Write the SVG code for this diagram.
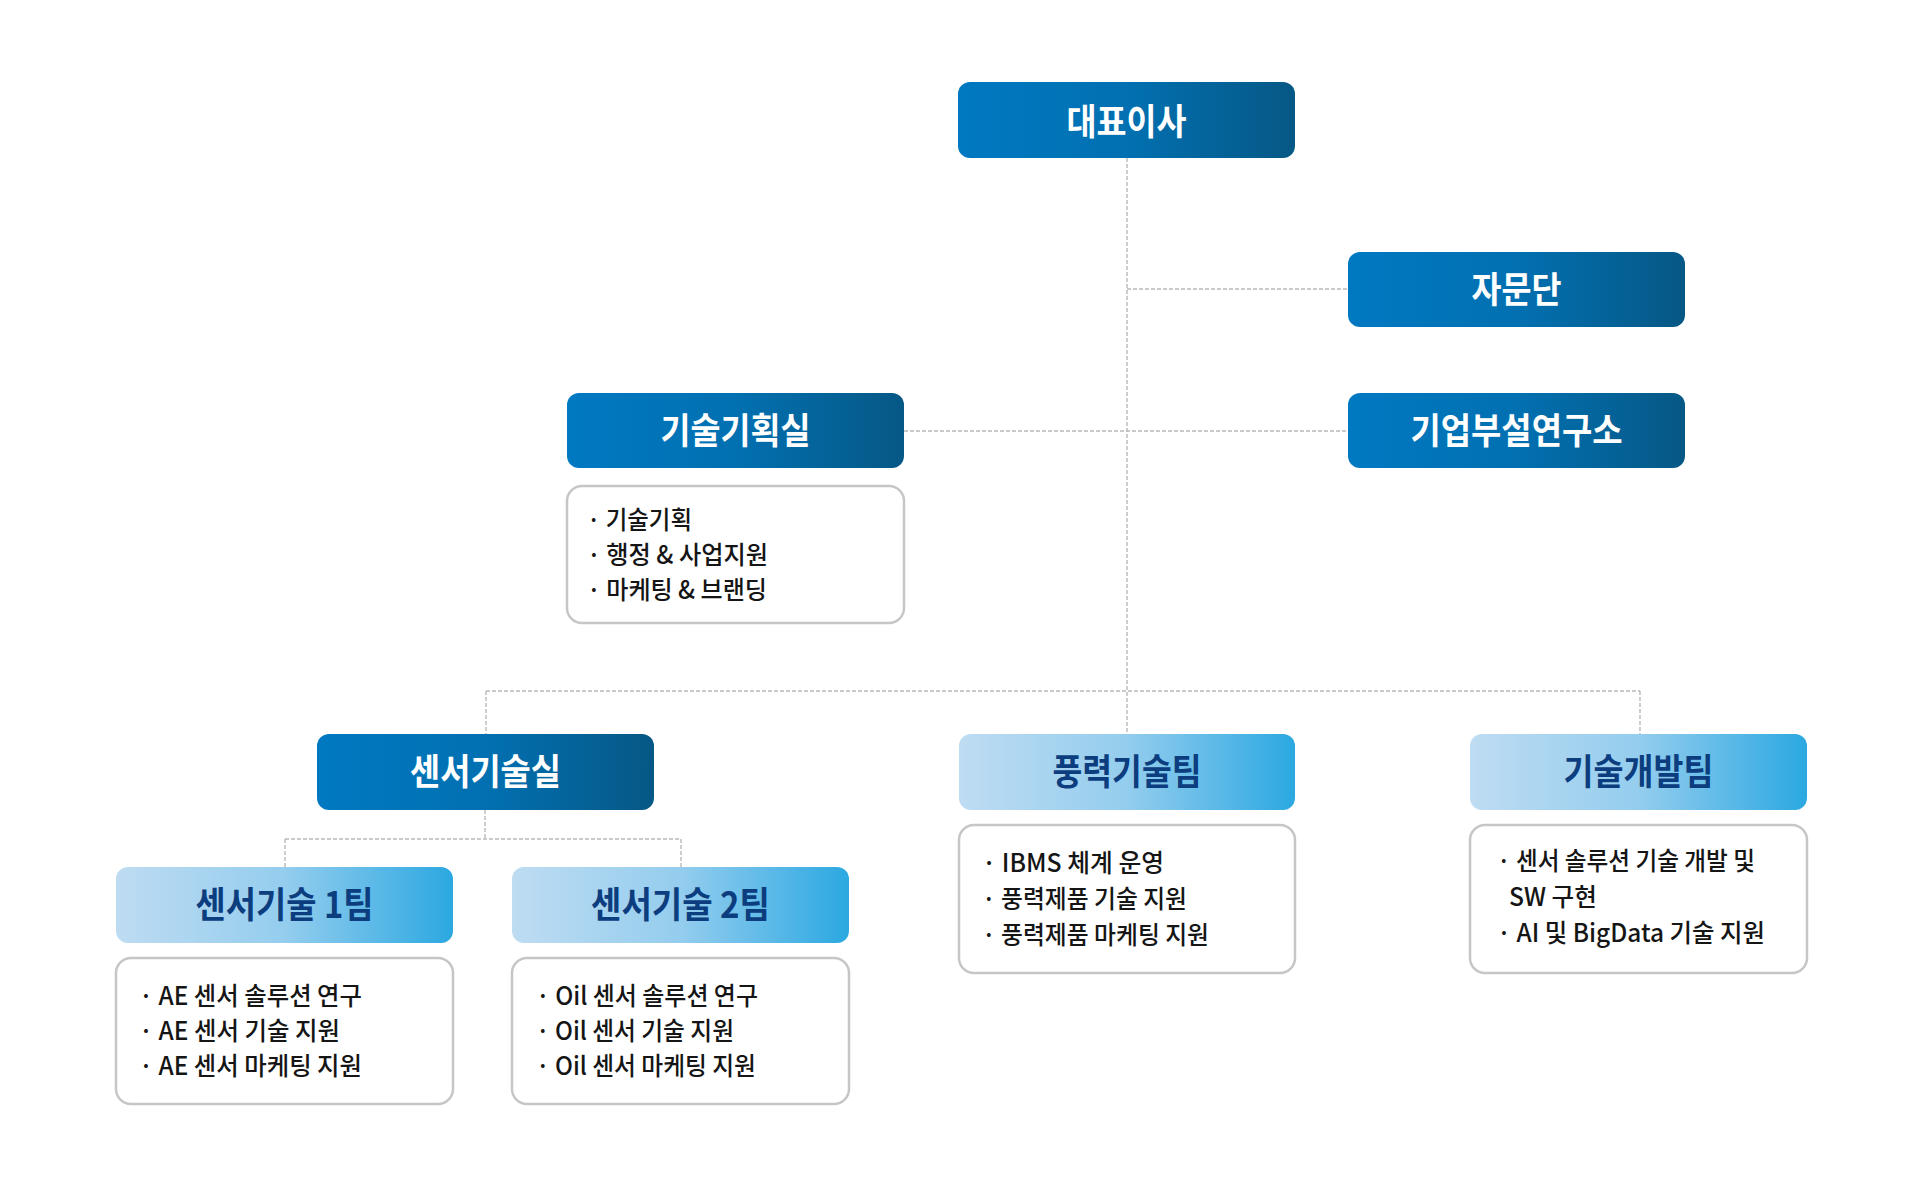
<svg xmlns="http://www.w3.org/2000/svg" width="1919" height="1196" viewBox="0 0 1919 1196">
  <defs>
    <linearGradient id="gDark" x1="0" y1="0" x2="1" y2="0">
      <stop offset="0" stop-color="#0079c2"/>
      <stop offset="0.5" stop-color="#0270b1"/>
      <stop offset="1" stop-color="#065885"/>
    </linearGradient>
    <linearGradient id="gLight" x1="0" y1="0" x2="1" y2="0">
      <stop offset="0" stop-color="#bedcf2"/>
      <stop offset="0.5" stop-color="#94cdee"/>
      <stop offset="1" stop-color="#2ba8e1"/>
    </linearGradient>
    <style>
      .dark { fill: url(#gDark); }
      .light { fill: url(#gLight); }
      .detail { fill: #ffffff; stroke: #c6c6c6; stroke-width: 2.5; }
      .tw { font-family: "Noto Sans CJK KR", "Noto Sans", sans-serif; font-weight: 700; font-size: 36px; fill: #ffffff; text-anchor: middle; }
      .tn { font-family: "Noto Sans CJK KR", "Noto Sans", sans-serif; font-weight: 700; font-size: 36px; fill: #0c3d7e; text-anchor: middle; }
      .body { font-family: "Noto Sans CJK KR", "Noto Sans", sans-serif; font-weight: 500; font-size: 25px; fill: #151515; }
      .conn { fill: none; stroke: #b9b9b9; stroke-width: 1.4; stroke-dasharray: 4 2; }
    </style>
  </defs>
  <rect width="1919" height="1196" fill="#ffffff"/>

  <g id="connectors">
    <path class="conn" d="M1127 158 V734"/>
    <path class="conn" d="M1127 289 H1348"/>
    <path class="conn" d="M904 431 H1348"/>
    <path class="conn" d="M486 691 H1640"/>
    <path class="conn" d="M486 691 V734"/>
    <path class="conn" d="M1640 691 V734"/>
    <path class="conn" d="M485 810 V839"/>
    <path class="conn" d="M285 839 H681"/>
    <path class="conn" d="M285 839 V867"/>
    <path class="conn" d="M681 839 V867"/>
  </g>

  <g id="ceo">
    <rect class="dark" x="958" y="82" width="337" height="76" rx="12"/>
    <text class="tw" x="1126.5" y="135" textLength="120" lengthAdjust="spacingAndGlyphs">대표이사</text>
  </g>

  <g id="advisory">
    <rect class="dark" x="1348" y="252" width="337" height="75" rx="12"/>
    <text class="tw" x="1516.5" y="303" textLength="90" lengthAdjust="spacingAndGlyphs">자문단</text>
  </g>

  <g id="lab">
    <rect class="dark" x="1348" y="393" width="337" height="75" rx="12"/>
    <text class="tw" x="1516.5" y="444" textLength="212" lengthAdjust="spacingAndGlyphs">기업부설연구소</text>
  </g>

  <g id="planning">
    <rect class="dark" x="567" y="393" width="337" height="75" rx="12"/>
    <text class="tw" x="735.5" y="444" textLength="150" lengthAdjust="spacingAndGlyphs">기술기획실</text>
  </g>
  <g id="planning-detail">
    <rect class="detail" x="567" y="486" width="337" height="137" rx="15"/>
    <text class="body" x="587" y="529" textLength="105" lengthAdjust="spacingAndGlyphs">· 기술기획</text>
    <text class="body" x="587" y="564" textLength="181" lengthAdjust="spacingAndGlyphs">· 행정 &amp; 사업지원</text>
    <text class="body" x="587" y="599" textLength="180" lengthAdjust="spacingAndGlyphs">· 마케팅 &amp; 브랜딩</text>
  </g>

  <g id="sensor-office">
    <rect class="dark" x="317" y="734" width="337" height="76" rx="12"/>
    <text class="tw" x="485.5" y="785" textLength="151" lengthAdjust="spacingAndGlyphs">센서기술실</text>
  </g>

  <g id="wind-team">
    <rect class="light" x="959" y="734" width="336" height="76" rx="12"/>
    <text class="tn" x="1127" y="785" textLength="149" lengthAdjust="spacingAndGlyphs">풍력기술팀</text>
  </g>
  <g id="wind-detail">
    <rect class="detail" x="959" y="825" width="336" height="148" rx="15"/>
    <text class="body" x="982" y="872" textLength="182" lengthAdjust="spacingAndGlyphs">· IBMS 체계 운영</text>
    <text class="body" x="982" y="908" textLength="205" lengthAdjust="spacingAndGlyphs">· 풍력제품 기술 지원</text>
    <text class="body" x="982" y="944" textLength="227" lengthAdjust="spacingAndGlyphs">· 풍력제품 마케팅 지원</text>
  </g>

  <g id="dev-team">
    <rect class="light" x="1470" y="734" width="337" height="76" rx="12"/>
    <text class="tn" x="1638.5" y="785" textLength="150" lengthAdjust="spacingAndGlyphs">기술개발팀</text>
  </g>
  <g id="dev-detail">
    <rect class="detail" x="1470" y="825" width="337" height="148" rx="15"/>
    <text class="body" x="1497" y="870" textLength="258" lengthAdjust="spacingAndGlyphs">· 센서 솔루션 기술 개발 및</text>
    <text class="body" x="1509" y="906" textLength="88" lengthAdjust="spacingAndGlyphs">SW 구현</text>
    <text class="body" x="1497" y="942" textLength="268" lengthAdjust="spacingAndGlyphs">· AI 및 BigData 기술 지원</text>
  </g>

  <g id="sensor-team-1">
    <rect class="light" x="116" y="867" width="337" height="76" rx="12"/>
    <text class="tn" x="284.5" y="918" textLength="178" lengthAdjust="spacingAndGlyphs">센서기술 1팀</text>
  </g>
  <g id="sensor-team-1-detail">
    <rect class="detail" x="116" y="958" width="337" height="146" rx="15"/>
    <text class="body" x="139" y="1005" textLength="223" lengthAdjust="spacingAndGlyphs">· AE 센서 솔루션 연구</text>
    <text class="body" x="139" y="1040" textLength="201" lengthAdjust="spacingAndGlyphs">· AE 센서 기술 지원</text>
    <text class="body" x="139" y="1075" textLength="223" lengthAdjust="spacingAndGlyphs">· AE 센서 마케팅 지원</text>
  </g>

  <g id="sensor-team-2">
    <rect class="light" x="512" y="867" width="337" height="76" rx="12"/>
    <text class="tn" x="680.5" y="918" textLength="179" lengthAdjust="spacingAndGlyphs">센서기술 2팀</text>
  </g>
  <g id="sensor-team-2-detail">
    <rect class="detail" x="512" y="958" width="337" height="146" rx="15"/>
    <text class="body" x="536" y="1005" textLength="222" lengthAdjust="spacingAndGlyphs">· Oil 센서 솔루션 연구</text>
    <text class="body" x="536" y="1040" textLength="198" lengthAdjust="spacingAndGlyphs">· Oil 센서 기술 지원</text>
    <text class="body" x="536" y="1075" textLength="220" lengthAdjust="spacingAndGlyphs">· Oil 센서 마케팅 지원</text>
  </g>
</svg>
